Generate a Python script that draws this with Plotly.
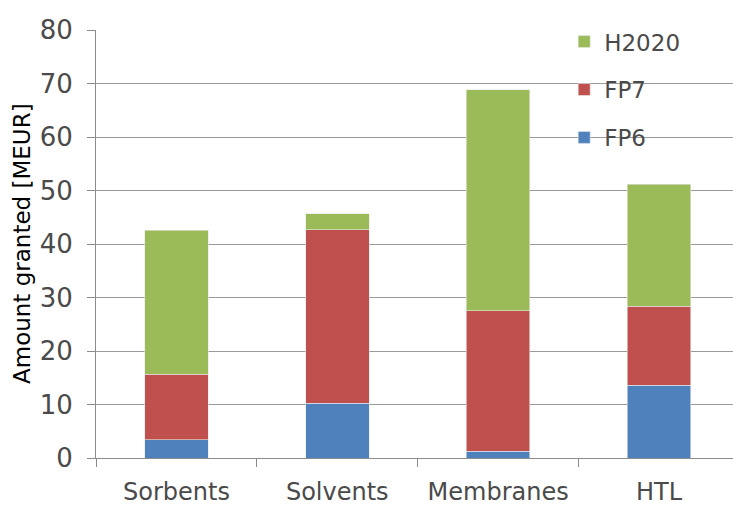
import plotly.graph_objects as go

categories = ["Sorbents", "Solvents", "Membranes", "HTL"]
fp6 = [3.4, 10.2, 1.3, 13.6]
fp7 = [12.3, 32.5, 26.2, 14.8]
h2020 = [26.9, 3.0, 41.3, 22.8]

colors = {"FP6": "#4F81BD", "FP7": "#C0504D", "H2020": "#9BBB59"}
font_fam = "DejaVu Sans, Verdana, sans-serif"
txt = "#4a4a4a"

fig = go.Figure()
for name, vals, rank in [("FP6", fp6, 3), ("FP7", fp7, 2), ("H2020", h2020, 1)]:
    fig.add_trace(go.Bar(x=categories, y=vals, name=name, legendgroup=name, legendrank=rank,
                         marker=dict(color=colors[name], line=dict(width=0.6, color="#e8e8e8"))))

fig.update_layout(
    width=733, height=506,
    barmode="stack", bargap=0.605,
    plot_bgcolor="white", paper_bgcolor="white",
    margin=dict(l=96, r=0, t=30, b=48),
    font=dict(family=font_fam, color=txt, size=20),
    legend=dict(x=0.735, y=1.023, xanchor="left", yanchor="top",
                traceorder="grouped", tracegroupgap=15,
                font=dict(size=23, color=txt), bgcolor="rgba(0,0,0,0)",
                itemwidth=30),
    xaxis=dict(range=[-0.5, 3.46], showline=True, linecolor="#8c8c8c", linewidth=1,
               ticks="outside", tickson="boundaries", ticklen=8, tickcolor="#8c8c8c",
               ticklabelstandoff=12,
               tickfont=dict(size=24, color=txt), showgrid=False),
    yaxis=dict(range=[0, 80], dtick=10, showline=True, linecolor="#8c8c8c", linewidth=1,
               ticks="outside", ticklen=8, tickcolor="#8c8c8c",
               gridcolor="#9a9a9a", gridwidth=1, ticklabelstandoff=9,
               tickfont=dict(size=26, color=txt), zeroline=False),
    annotations=[dict(text="Amount granted [MEUR]", xref="paper", yref="paper",
                      x=0, y=0.5, xshift=-74, xanchor="center", yanchor="middle",
                      textangle=-90, showarrow=False,
                      font=dict(size=23, color="#000000"))],
)

fig.write_html("out.html")
